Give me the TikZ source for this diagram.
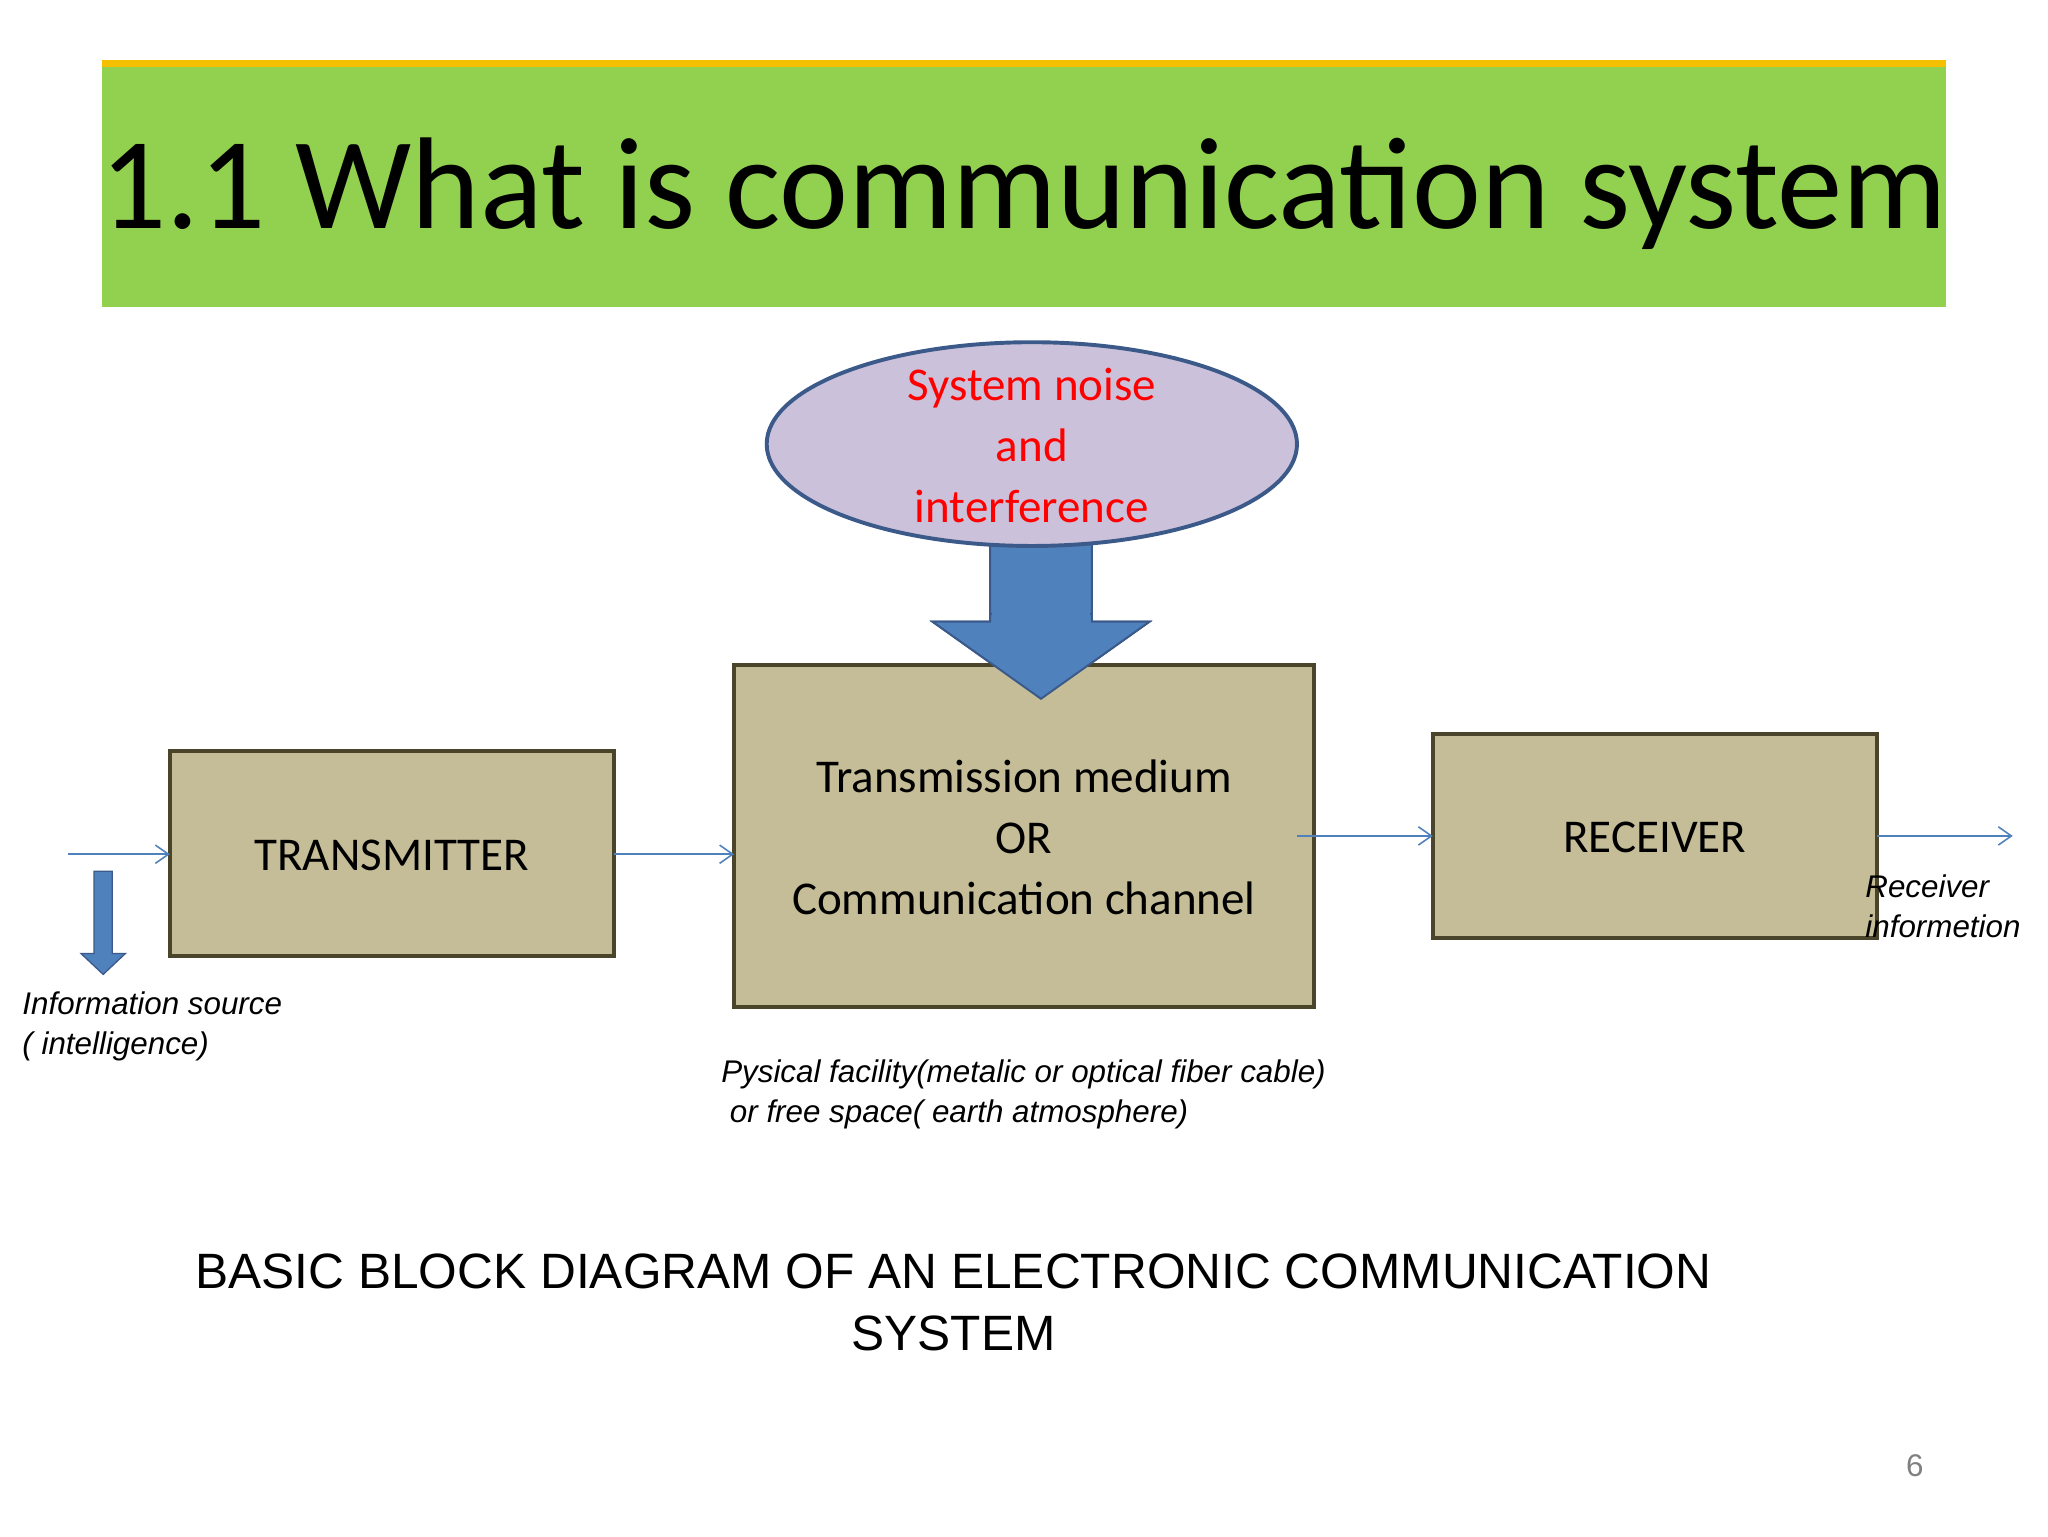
\documentclass[tikz,border=0pt]{standalone}
\usepackage{fontspec}
\setmainfont{Carlito}
\newfontfamily\arial{Liberation Sans}
\usetikzlibrary{arrows.meta,shapes.geometric}
\definecolor{green1}{HTML}{92D050}
\definecolor{gold1}{HTML}{F5C000}
\definecolor{lil}{HTML}{CCC1DA}
\definecolor{edgeb}{HTML}{3B5A8A}
\definecolor{blu}{HTML}{4F81BD}
\definecolor{khaki}{HTML}{C4BD97}
\definecolor{dk}{HTML}{4A452A}
\tikzset{
 box/.style={draw=dk,line width=3pt,fill=khaki},
 conn/.style={draw=blu,line width=1.2pt,-{Straight Barb[length=10pt,width=14pt]}},
 lab/.style={font=\arial\fontsize{24}{31}\selectfont\itshape,align=left,inner sep=0pt},
 btxt/.style={font=\fontsize{36}{47}\selectfont,align=center},
 barrow/.style={fill=blu,draw=edgeb,line width=1.5pt,line join=miter}
}
\begin{document}
\begin{tikzpicture}[x=1pt,y=-1pt]
\useasboundingbox (0,0) rectangle (1568,1176);
\fill[white] (0,0) rectangle (1568,1176);
\fill[green1] (78,50) rectangle (1490,235);
\fill[gold1] (78,46) rectangle (1490,51);
\node[font=\fontsize{100}{110}\selectfont] (title) at (784,148) {1.1 What is communication system};
\draw[barrow] (758,410) -- (836,410) -- (836,476) -- (880,476) -- (797,535) -- (714,476) -- (758,476) -- cycle;
\node[draw=edgeb,line width=3pt,fill=lil,ellipse,minimum width=406pt,minimum height=156pt,inner sep=0pt] (noise) at (790,340) {};
\node[btxt,text=red] (noiset) at (790,341) {System noise\\and\\interference};
\draw[box] (562,509) rectangle (1006,771);
\draw[barrow] (758,470) -- (836,470) -- (836,476) -- (880,476) -- (797,535) -- (714,476) -- (758,476) -- cycle;
\fill[blu] (759.5,468) rectangle (834.5,478);
\node[btxt] (chan) at (784,641) {Transmission medium\\OR\\Communication channel};
\draw[box] (130,575) rectangle (470,732);
\node[btxt] (tx) at (300,655) {TRANSMITTER};
\draw[box] (1097,562) rectangle (1437,718);
\node[btxt] (rx) at (1267,641) {RECEIVER};
\coordinate (in) at (52,654);
\coordinate (txl) at (130,654);
\coordinate (txr) at (470,654);
\coordinate (chl) at (562,654);
\coordinate (chr) at (993,640);
\coordinate (rxl) at (1097,640);
\coordinate (rxr) at (1437,640);
\coordinate (out) at (1541,640);
\draw[conn] (in) -- (txl);
\draw[conn] (txr) -- (chl);
\draw[conn] (chr) -- (rxl);
\draw[conn] (rxr) -- (out);
\draw[barrow,line width=1pt] (72,667) -- (86,667) -- (86,730) -- (96,730) -- (79,746) -- (62,730) -- (72,730) -- cycle;
\node[lab,anchor=west] (src) at (17,786) {Information source\\( intelligence)};
\node[lab,anchor=west] (phy) at (552,838) {Pysical facility(metalic or optical fiber cable)\\\ or free space( earth atmosphere)};
\node[lab,anchor=west] (rinfo) at (1428,694) {Receiver\\informetion};
\node[font=\arial\fontsize{38}{47}\selectfont,align=center] (cap) at (730,997) {BASIC BLOCK DIAGRAM OF AN ELECTRONIC COMMUNICATION\\SYSTEM};
\node[font=\arial\fontsize{24}{28}\selectfont,text=gray] (pg) at (1466,1122) {6};
\end{tikzpicture}
\end{document}
